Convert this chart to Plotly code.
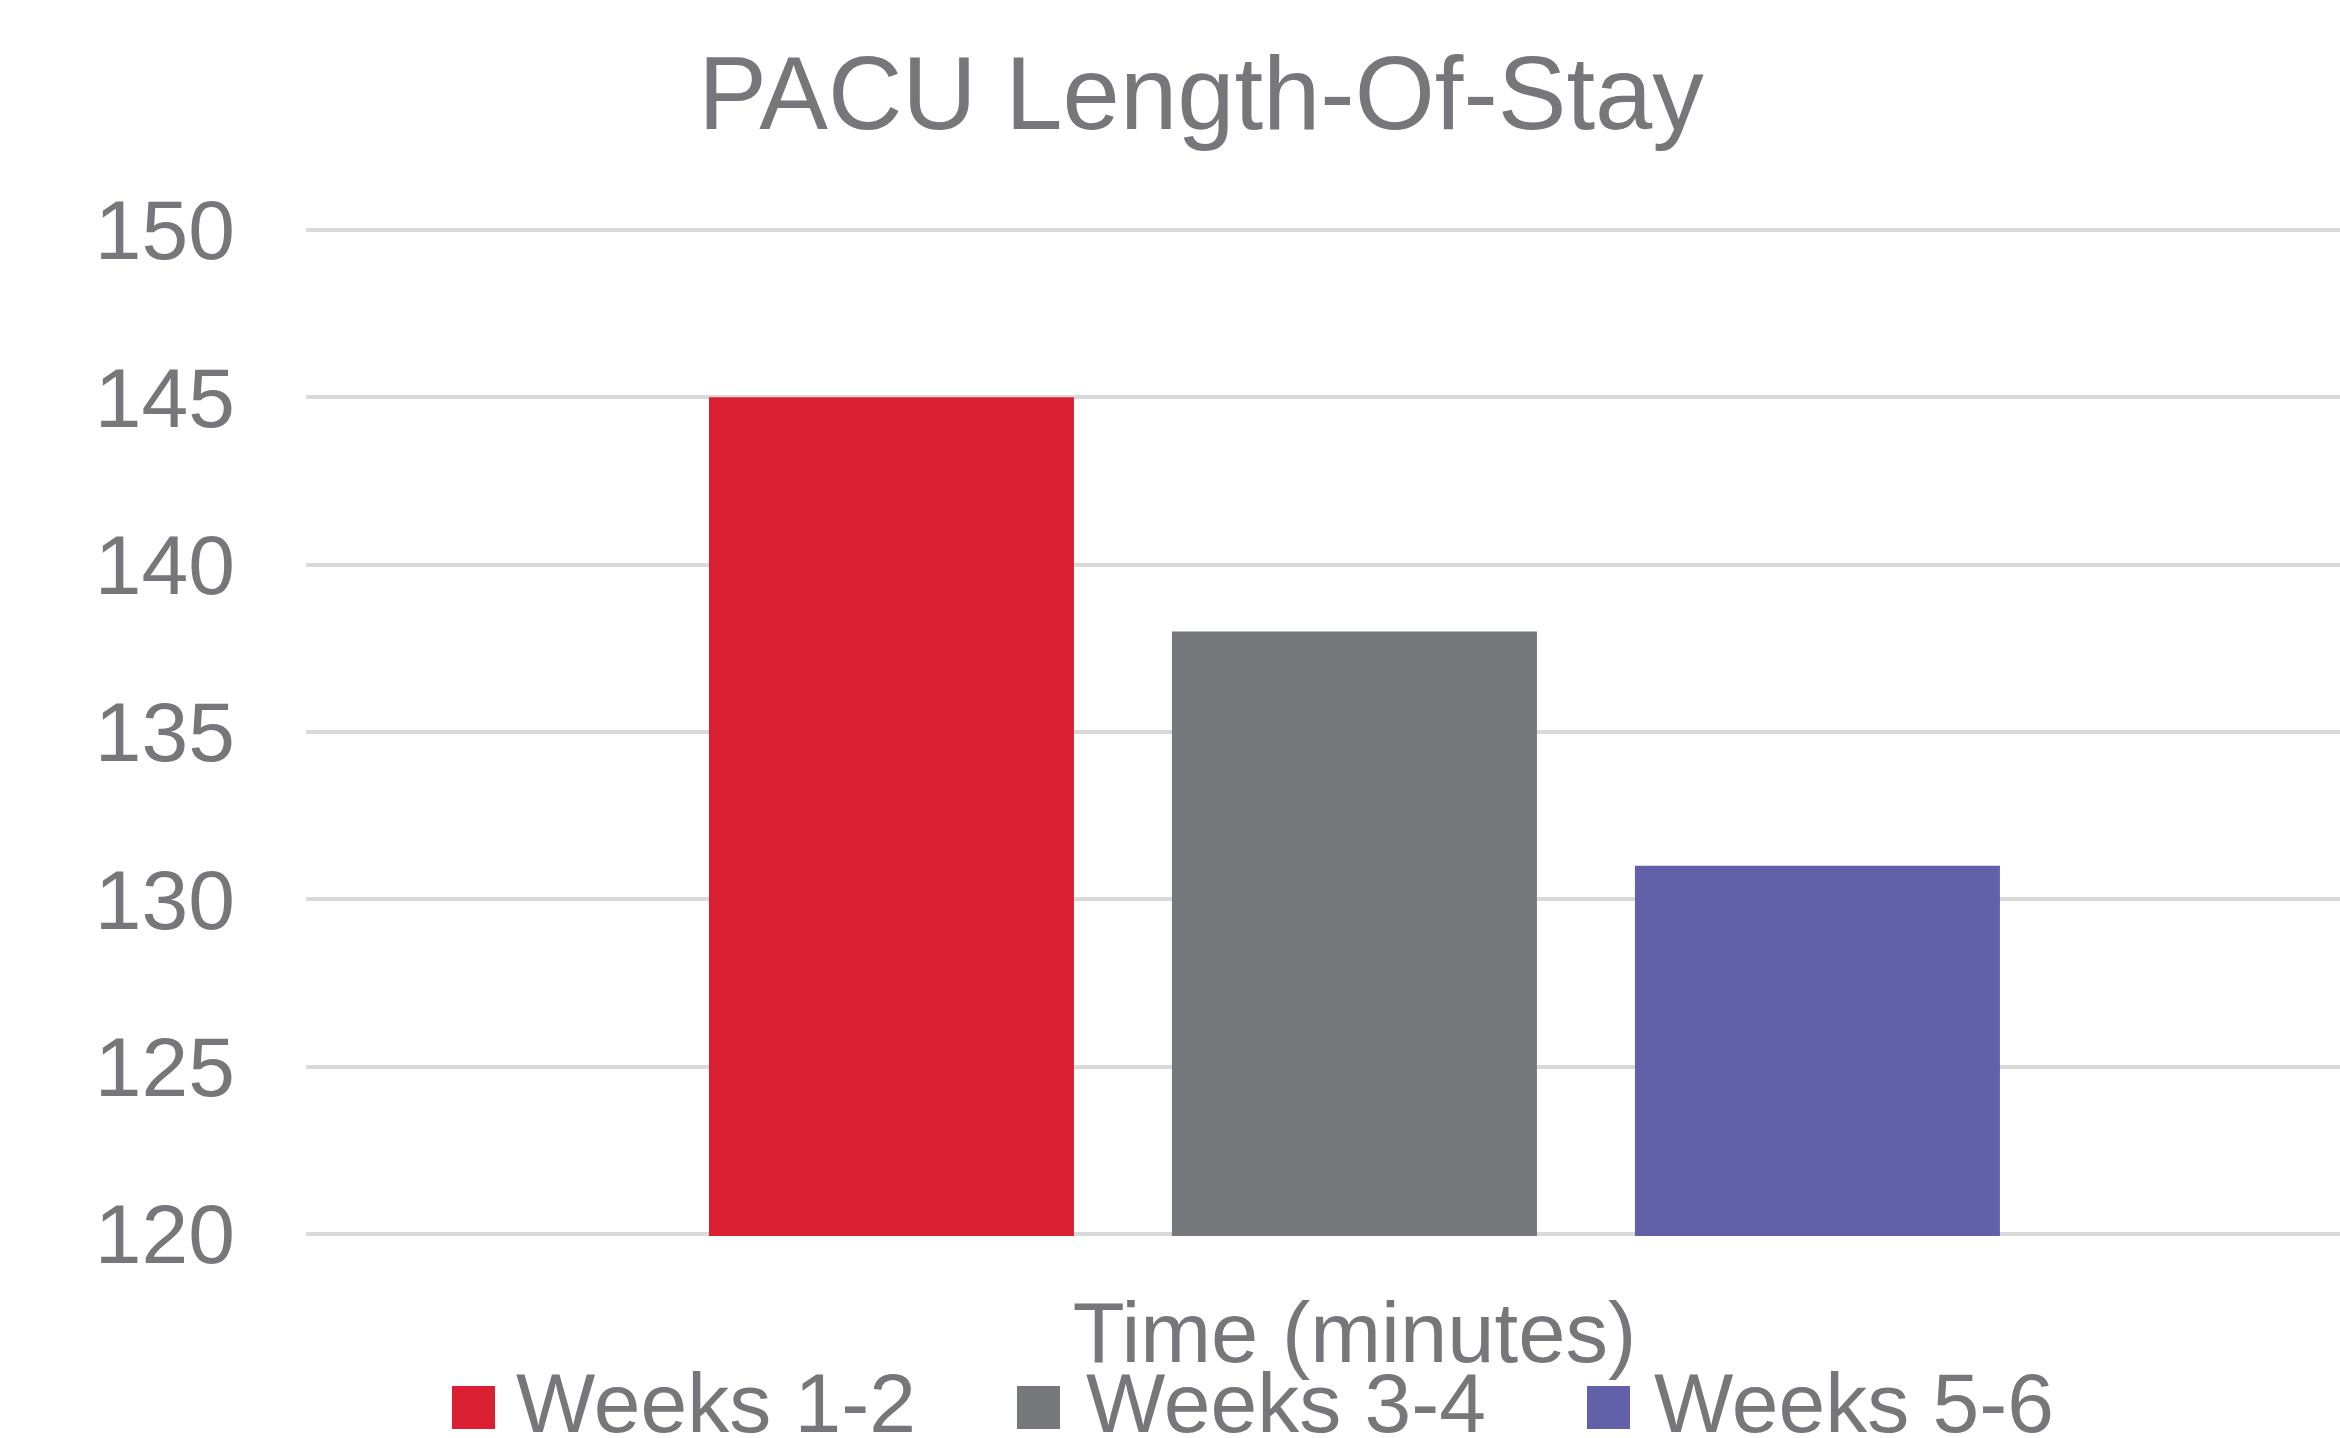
import plotly.graph_objects as go

categories = ["Time (minutes)"]
series_names = ["Weeks 1-2", "Weeks 3-4", "Weeks 5-6"]
series_values = [145, 138, 131]
series_colors = ["#DA1F33", "#77787C", "#6260A9"]
y_ticks = [120, 125, 130, 135, 140, 145, 150]

W, H = 2340, 1438
ML, MR, MT, MB = 306, 0, 228, 202
PW = W - ML - MR
PH = H - MT - MB
FONT = "Liberation Sans, Arial, sans-serif"
TXT = "#77777B"

fig = go.Figure()
for name, val, col in zip(series_names, series_values, series_colors):
    fig.add_trace(go.Bar(x=categories, y=[val], name=name, marker_color=col,
                         marker_line_width=0, showlegend=False))

# legend built from the series lists
leg_sq_x = [452, 1017, 1587]
leg_txt_x = [514, 1084, 1652]
for i, (name, col) in enumerate(zip(series_names, series_colors)):
    x0 = (leg_sq_x[i] - ML) / PW
    x1 = (leg_sq_x[i] + 43 - ML) / PW
    y0 = (MT + PH - 1429) / PH
    y1 = (MT + PH - 1386) / PH
    fig.add_shape(type="rect", xref="paper", yref="paper", x0=x0, x1=x1, y0=y0, y1=y1,
                  fillcolor=col, line_width=0)
    fig.add_annotation(xref="paper", yref="paper", x=(leg_txt_x[i] - ML) / PW,
                       y=(MT + PH - 1403) / PH, xanchor="left", yanchor="middle",
                       text=name, showarrow=False, font=dict(family=FONT, size=84, color=TXT))

fig.update_layout(
    width=W, height=H,
    margin=dict(l=ML, r=MR, t=MT, b=MB),
    paper_bgcolor="white", plot_bgcolor="white",
    barmode="group", bargap=0.3376, bargroupgap=0.2117,
    title=dict(text="PACU Length-Of-Stay", x=1201 / W, xanchor="center",
               y=1 - 93 / H, yanchor="middle", yref="container",
               font=dict(family=FONT, size=103, color=TXT)),
    xaxis=dict(type="category", range=[-0.5, 0.470], showgrid=False, showline=False,
               zeroline=False, ticks="", ticklabelstandoff=40,
               tickfont=dict(family=FONT, size=85, color=TXT)),
    yaxis=dict(range=[119.94, 150.06], tickvals=y_ticks, showgrid=True, gridcolor="#D9D9D9",
               gridwidth=4, zeroline=False, showline=False, ticks="",
               ticklabelstandoff=70,
               tickfont=dict(family=FONT, size=84, color=TXT)),
)

fig.write_html("out.html", config={"displayModeBar": False},
               post_script="document.body.style.margin='0';document.body.style.overflow='hidden';")
